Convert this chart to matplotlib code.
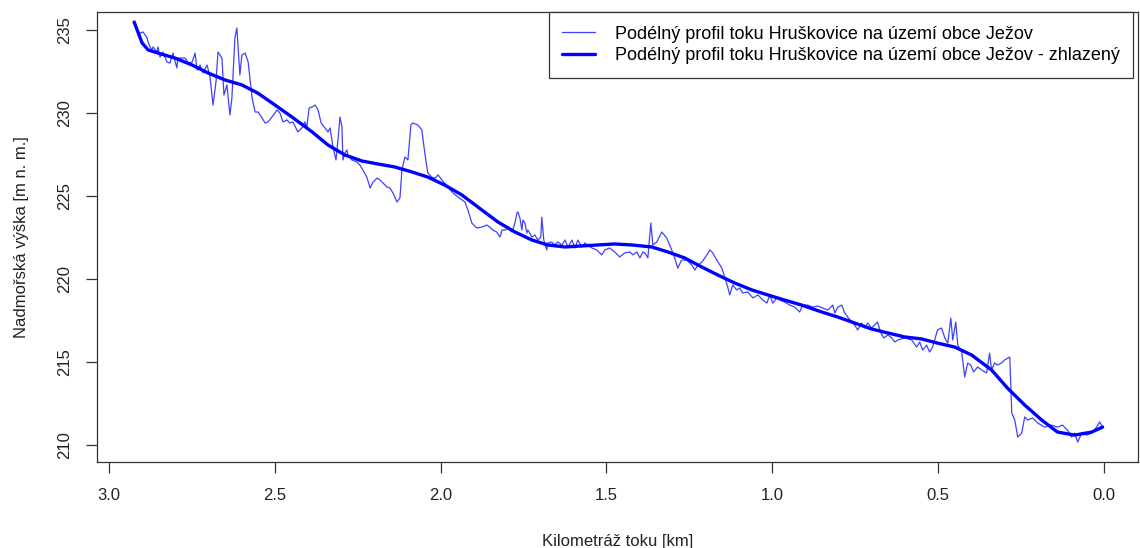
import numpy as np
import matplotlib
matplotlib.use("Agg")
import matplotlib.pyplot as plt

plt.rcParams['font.family'] = ['Liberation Sans', 'DejaVu Sans']

# raw profile (km from mouth, elevation m)
km_raw = [2.922, 2.916, 2.913, 2.907, 2.898, 2.886, 2.883, 2.877, 2.871, 2.868,
          2.856, 2.853, 2.847, 2.838, 2.826, 2.817, 2.808, 2.796, 2.793, 2.780,
          2.771, 2.762, 2.750, 2.741, 2.735, 2.726, 2.717, 2.705, 2.696, 2.687,
          2.678, 2.672, 2.660, 2.654, 2.645, 2.636, 2.630, 2.621, 2.615, 2.606,
          2.600, 2.590, 2.581, 2.569, 2.560, 2.551, 2.539, 2.530, 2.521, 2.509,
          2.494, 2.485, 2.476, 2.464, 2.455, 2.446, 2.431, 2.419, 2.410, 2.404,
          2.397, 2.388, 2.379, 2.370, 2.361, 2.349, 2.340, 2.334, 2.325, 2.316,
          2.310, 2.304, 2.298, 2.295, 2.289, 2.283, 2.280, 2.268, 2.253, 2.244,
          2.235, 2.223, 2.213, 2.204, 2.192, 2.183, 2.174, 2.162, 2.153, 2.144,
          2.132, 2.123, 2.117, 2.108, 2.099, 2.090, 2.084, 2.069, 2.057, 2.048,
          2.039, 2.027, 2.017, 2.008, 1.996, 1.978, 1.963, 1.948, 1.927, 1.918,
          1.906, 1.891, 1.876, 1.861, 1.852, 1.843, 1.831, 1.821, 1.815, 1.806,
          1.797, 1.785, 1.776, 1.770, 1.767, 1.761, 1.755, 1.752, 1.746, 1.740,
          1.737, 1.725, 1.716, 1.707, 1.698, 1.695, 1.689, 1.680, 1.677, 1.665,
          1.656, 1.647, 1.634, 1.625, 1.616, 1.604, 1.595, 1.586, 1.574, 1.565,
          1.544, 1.529, 1.514, 1.505, 1.490, 1.475, 1.460, 1.445, 1.429, 1.420,
          1.408, 1.399, 1.390, 1.384, 1.375, 1.366, 1.360, 1.348, 1.333, 1.318,
          1.303, 1.294, 1.285, 1.273, 1.258, 1.242, 1.233, 1.224, 1.212, 1.197,
          1.188, 1.179, 1.167, 1.152, 1.143, 1.134, 1.128, 1.119, 1.107, 1.098,
          1.089, 1.074, 1.058, 1.043, 1.028, 1.016, 1.007, 0.998, 0.986, 0.977,
          0.962, 0.947, 0.932, 0.917, 0.908, 0.893, 0.878, 0.862, 0.847, 0.832,
          0.817, 0.811, 0.802, 0.790, 0.781, 0.772, 0.760, 0.751, 0.742, 0.730,
          0.721, 0.712, 0.700, 0.691, 0.682, 0.672, 0.663, 0.651, 0.639, 0.630,
          0.621, 0.600, 0.579, 0.564, 0.555, 0.546, 0.534, 0.525, 0.516, 0.507,
          0.501, 0.489, 0.479, 0.470, 0.461, 0.455, 0.446, 0.440, 0.428, 0.419,
          0.410, 0.401, 0.392, 0.380, 0.368, 0.353, 0.344, 0.338, 0.329, 0.320,
          0.308, 0.299, 0.283, 0.277, 0.268, 0.259, 0.247, 0.238, 0.229, 0.214,
          0.199, 0.178, 0.157, 0.139, 0.124, 0.109, 0.097, 0.087, 0.078, 0.066,
          0.051, 0.036, 0.021, 0.012, 0.006, 0.003]
h_raw = [235.48, 235.00, 234.70, 234.82, 234.88, 234.52, 234.28, 233.98, 233.80, 233.98,
         233.67, 233.98, 233.37, 233.67, 233.07, 233.01, 233.61, 232.71, 233.31, 233.31,
         233.31, 233.01, 233.07, 233.61, 232.59, 232.89, 232.41, 232.89, 232.17, 230.48,
         231.87, 233.67, 233.31, 231.08, 231.69, 229.88, 230.90, 234.52, 235.12, 232.29,
         233.49, 233.61, 233.07, 230.90, 230.06, 230.06, 229.70, 229.40, 229.46, 229.76,
         230.18, 230.00, 229.46, 229.58, 229.40, 229.46, 228.86, 229.10, 229.46, 229.16,
         230.30, 230.36, 230.48, 230.18, 229.40, 229.10, 228.86, 229.10, 227.95, 227.17,
         228.37, 229.76, 229.16, 227.17, 227.59, 227.77, 227.47, 227.17, 227.05, 226.87,
         226.57, 226.14, 225.48, 225.84, 226.08, 225.96, 225.78, 225.54, 225.48, 225.18,
         224.64, 224.88, 226.57, 227.35, 227.17, 229.28, 229.40, 229.28, 228.98, 227.59,
         226.39, 226.14, 226.08, 226.27, 225.96, 225.54, 225.18, 224.94, 224.64, 224.16,
         223.37, 223.07, 223.13, 223.25, 223.13, 222.95, 222.83, 222.53, 222.95, 222.95,
         223.07, 222.83, 223.37, 223.98, 224.04, 223.67, 222.95, 223.55, 223.37, 222.77,
         222.95, 222.53, 222.65, 222.35, 222.53, 223.73, 222.35, 221.75, 222.17, 222.23,
         222.05, 222.23, 222.05, 222.35, 221.93, 222.35, 221.87, 222.35, 221.93, 222.17,
         221.87, 221.75, 221.45, 221.75, 221.87, 221.63, 221.33, 221.57, 221.63, 221.45,
         221.63, 221.27, 221.63, 221.57, 221.27, 223.37, 222.05, 222.23, 222.83, 222.47,
         221.75, 221.27, 220.66, 221.14, 221.14, 220.84, 220.54, 220.84, 221.02, 221.45,
         221.75, 221.57, 221.14, 220.66, 220.12, 219.52, 219.04, 219.64, 219.34, 219.46,
         219.16, 219.22, 218.86, 219.04, 218.73, 218.55, 219.04, 218.55, 218.86, 218.73,
         218.61, 218.43, 218.31, 218.01, 218.43, 218.43, 218.31, 218.37, 218.25, 218.13,
         218.43, 217.95, 218.31, 218.43, 217.95, 217.71, 217.41, 217.23, 216.93, 217.35,
         217.05, 217.35, 217.05, 217.23, 217.41, 216.75, 216.45, 216.63, 216.45, 216.20,
         216.33, 216.45, 216.33, 215.90, 216.20, 215.72, 216.02, 215.60, 215.90, 216.51,
         216.93, 217.05, 216.45, 216.14, 217.65, 216.33, 217.41, 216.02, 215.60, 214.10,
         214.94, 214.82, 214.40, 214.70, 214.52, 214.34, 215.54, 214.52, 214.94, 214.82,
         214.94, 215.12, 215.30, 211.93, 211.51, 210.48, 210.72, 211.69, 211.51, 211.63,
         211.33, 211.08, 211.20, 211.08, 211.20, 210.90, 210.48, 210.72, 210.18, 210.72,
         210.60, 210.72, 211.08, 211.39, 211.20, 211.08]

# smoothed profile
km_smooth = [2.925, 2.901, 2.883, 2.853, 2.802, 2.750, 2.702, 2.651, 2.600, 2.552,
             2.500, 2.449, 2.388, 2.340, 2.289, 2.238, 2.190, 2.139, 2.087, 2.039,
             1.988, 1.936, 1.876, 1.827, 1.776, 1.725, 1.677, 1.625, 1.526, 1.475,
             1.423, 1.363, 1.315, 1.264, 1.212, 1.164, 1.113, 1.061, 1.013, 0.962,
             0.911, 0.850, 0.802, 0.751, 0.700, 0.651, 0.600, 0.549, 0.501, 0.449,
             0.398, 0.338, 0.290, 0.238, 0.187, 0.139, 0.087, 0.036, 0.003]
h_smooth = [235.48, 234.22, 233.80, 233.61, 233.31, 232.89, 232.41, 231.99, 231.69, 231.20,
            230.48, 229.76, 228.86, 228.07, 227.47, 227.11, 226.93, 226.75, 226.45, 226.14,
            225.66, 225.06, 224.16, 223.43, 222.83, 222.35, 222.05, 221.93, 222.05, 222.11,
            222.05, 221.93, 221.63, 221.27, 220.72, 220.24, 219.76, 219.34, 219.04, 218.73,
            218.43, 218.01, 217.71, 217.35, 216.99, 216.75, 216.51, 216.39, 216.14, 215.90,
            215.42, 214.52, 213.43, 212.41, 211.51, 210.78, 210.60, 210.78, 211.08]

x_ticks = [3.0, 2.5, 2.0, 1.5, 1.0, 0.5, 0.0]
y_ticks = [210, 215, 220, 225, 230, 235]
lab_raw = "Podélný profil toku Hruškovice na území obce Ježov"
lab_smooth = "Podélný profil toku Hruškovice na území obce Ježov - zhlazený"

fig = plt.figure(figsize=(11.4, 5.48), dpi=100)
ax = fig.add_axes([0.0851, 0.157, 0.9129, 0.821])

ax.plot(km_raw, h_raw, color=(0.25, 0.25, 1.0), lw=0.9, label=lab_raw)
ax.plot(km_smooth, h_smooth, color='#0000ff', lw=2.4, label=lab_smooth,
        solid_capstyle='round')

ax.set_xlim(3.037, -0.103)
ax.set_ylim(208.98, 236.08)
ax.set_xticks(x_ticks)
ax.set_xticklabels(["%.1f" % v for v in x_ticks], fontsize=12)
ax.set_yticks(y_ticks)
ax.set_yticklabels([str(v) for v in y_ticks], fontsize=12, rotation=90, va='center')
ax.tick_params(axis='both', direction='out', length=8, width=0.9, color='#333333',
               labelcolor='#222222')
ax.tick_params(axis='x', pad=11)
ax.tick_params(axis='y', pad=10)
for s in ax.spines.values():
    s.set_linewidth(0.9)
    s.set_color('#333333')

ax.set_xlabel("Kilometráž toku [km]", fontsize=12, color='#222222', labelpad=22)
ax.set_ylabel("Nadmořská výška [m n. m.]", fontsize=12, color='#222222', labelpad=20)

leg = ax.legend(loc='upper right', bbox_to_anchor=(0.9955, 1.0), fontsize=13,
                frameon=True, fancybox=False, borderaxespad=0, handlelength=1.8,
                handletextpad=1.1, borderpad=0.75, labelspacing=0.25)
leg.get_frame().set_edgecolor('#333333')
leg.get_frame().set_linewidth(0.9)
leg.get_frame().set_alpha(1)

fig.savefig("out.png", dpi=100)
